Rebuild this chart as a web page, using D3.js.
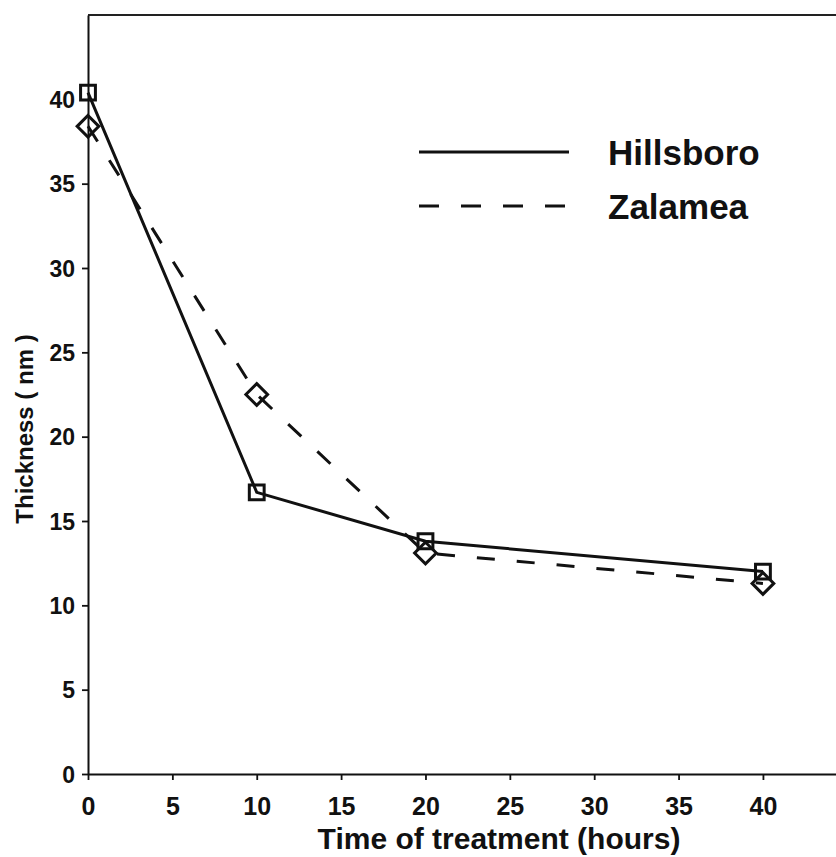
<!DOCTYPE html>
<html>
<head>
<meta charset="utf-8">
<script src="https://cdn.jsdelivr.net/npm/d3@7"></script>
<style>
  body { margin: 0; background: #fff; }
  svg { display: block; font-family: "Liberation Sans", Arial, sans-serif; }
</style>
</head>
<body>
<svg width="836" height="857"></svg>
<script>
// data
var hours = [0, 10, 20, 40];
var hillsboro = [40.4, 16.7, 13.8, 12.0];
var zalamea = [38.4, 22.5, 13.1, 11.3];
var xTicks = [0, 5, 10, 15, 20, 25, 30, 35, 40];
var yTicks = [0, 5, 10, 15, 20, 25, 30, 35, 40];

var series = [
  { name: 'Hillsboro', vals: hillsboro, dash: null, marker: 'square' },
  { name: 'Zalamea', vals: zalamea, dash: '18,22', marker: 'diamond' }
];

var svg = d3.select('svg');

var plotL = 88, plotR = 836, plotT = 15, plotB = 774;

var x = d3.scaleLinear().domain([0, 44.33]).range([plotL, plotR]);
var y = d3.scaleLinear().domain([0, 45]).range([plotB, plotT]);

// frame top line
svg.append('line')
    .attr('x1', plotL).attr('x2', plotR)
    .attr('y1', plotT).attr('y2', plotT)
    .attr('stroke', '#222').attr('stroke-width', 1.8);

var xAxis = svg.append('g')
    .attr('transform', 'translate(0,' + plotB + ')')
    .call(d3.axisBottom(x).tickValues(xTicks).tickSize(6).tickPadding(17).tickSizeOuter(0));

var yAxis = svg.append('g')
    .attr('transform', 'translate(' + plotL + ',0)')
    .call(d3.axisLeft(y).tickValues(yTicks).tickSize(6).tickPadding(7).tickSizeOuter(0));

[xAxis, yAxis].forEach(function(g) {
  g.select('.domain').attr('stroke', '#111').attr('stroke-width', 2);
  g.selectAll('.tick line').attr('stroke', '#111').attr('stroke-width', 1.8);
  g.selectAll('.tick text').attr('fill', '#111').style('font-weight', 'bold');
});
xAxis.selectAll('.tick text').style('font-size', '25px');
yAxis.selectAll('.tick text').style('font-size', '23px').attr('dy', '0.36em');

// axis titles
svg.append('text')
    .attr('x', 499).attr('y', 849)
    .attr('text-anchor', 'middle')
    .style('font-size', '30px').style('font-weight', 'bold')
    .attr('fill', '#111')
    .text('Time of treatment (hours)');

svg.append('text')
    .attr('transform', 'translate(33,429) rotate(-90)')
    .attr('text-anchor', 'middle')
    .style('font-size', '24px').style('font-weight', 'bold')
    .attr('fill', '#111')
    .text('Thickness ( nm )');

var line = d3.line()
    .x(function(d) { return x(d[0]); })
    .y(function(d) { return y(d[1]); });

series.forEach(function(s) {
  var pts = hours.map(function(h, i) { return [h, s.vals[i]]; });

  svg.append('path')
      .datum(pts)
      .attr('d', line)
      .attr('fill', 'none')
      .attr('stroke', '#111')
      .attr('stroke-width', 3)
      .attr('stroke-dasharray', s.dash);

  var sym = s.marker == 'square'
      ? d3.symbol().type(d3.symbolSquare).size(220)
      : d3.symbol().type(d3.symbolDiamond2).size(300);

  svg.selectAll('.m-' + s.marker)
      .data(pts)
      .enter()
      .append('path')
      .attr('class', 'm-' + s.marker)
      .attr('d', sym)
      .attr('transform', function(d) { return 'translate(' + x(d[0]) + ',' + y(d[1]) + ')'; })
      .attr('fill', 'none')
      .attr('stroke', '#111')
      .attr('stroke-width', 3);
});

// legend
var legend = svg.selectAll('.legend')
    .data(series)
    .enter()
    .append('g')
    .attr('class', 'legend')
    .attr('transform', function(d, i) { return 'translate(419,' + (152 + i * 54) + ')'; });

legend.append('line')
    .attr('x1', 0).attr('x2', 150)
    .attr('stroke', '#111')
    .attr('stroke-width', 3)
    .attr('stroke-dasharray', function(d) { return d.dash ? '20,22' : null; });

legend.append('text')
    .attr('x', 189).attr('y', 13)
    .style('font-size', '35px').style('font-weight', 'bold')
    .attr('fill', '#111')
    .text(function(d) { return d.name; });
</script>
</body>
</html>
